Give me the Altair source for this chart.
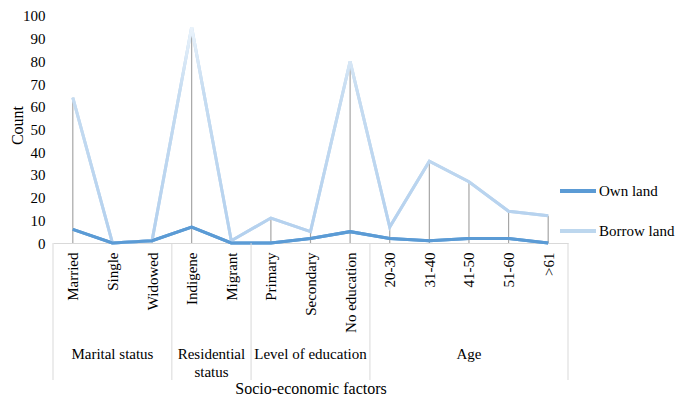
import altair as alt
import pandas as pd

categories = ["Married", "Single", "Widowed", "Indigene", "Migrant", "Primary",
              "Secondary", "No education", "20-30", "31-40", "41-50", "51-60", ">61"]
own_land = [6, 0, 1, 7, 0, 0, 2, 5, 2, 1, 2, 2, 0]
borrow_land = [64, 0, 1, 95, 1, 11, 5, 80, 7, 36, 27, 14, 12]
groups = ["Marital status", "Residential\nstatus", "Level of education", "Age"]
group_sizes = [3, 2, 3, 5]
series_names = ["Own land", "Borrow land"]
y_ticks = list(range(0, 101, 10))

FONT = "Liberation Serif"
W, H = 515, 235
n = len(categories)

pos = [i + 0.5 for i in range(n)]
long_df = pd.DataFrame({
    "pos": pos * 2,
    "value": own_land + borrow_land,
    "series": [series_names[0]] * n + [series_names[1]] * n,
})
own_df = long_df[long_df["series"] == series_names[0]]
borrow_df = long_df[long_df["series"] == series_names[1]]
drop_df = pd.DataFrame({"pos": pos, "value": [max(a, b) for a, b in zip(own_land, borrow_land)]})

bounds = [0]
for s in group_sizes:
    bounds.append(bounds[-1] + s)
sep_df = pd.DataFrame({"pos": bounds})
grp_df = pd.DataFrame({
    "pos": [(bounds[i] + bounds[i + 1]) / 2 for i in range(len(groups))],
    "label": groups,
})

x_scale = alt.Scale(domain=[0, n], nice=False, zero=False)
y_scale = alt.Scale(domain=[0, 103.5], nice=False)

label_expr = "[" + ",".join("'" + c + "'" for c in categories) + "][floor(datum.value)]"

x_axis = alt.Axis(values=pos, labelExpr=label_expr, labelAngle=270, ticks=False, grid=False,
                  domainColor="#d9d9d9", domainWidth=1, labelPadding=9, labelFont=FONT,
                  labelFontSize=15, labelColor="black", labelFlush=False, labelOverlap=False,
                  title="Socio-economic factors", titleFont=FONT, titleFontSize=16,
                  titleFontWeight="normal", titleColor="black", titleY=145,
                  titleBaseline="middle")
y_axis = alt.Axis(values=y_ticks, tickCount=11, ticks=False, domain=False, grid=False,
                  labelFont=FONT, labelFontSize=15, labelPadding=8, labelColor="black",
                  labelOverlap=False, title="Count",
                  titleFont=FONT, titleFontSize=16, titleFontWeight="normal", titleColor="black",
                  titleAngle=270, titleX=-36, titleY=117, titleAlign="center",
                  titleBaseline="middle")

X = alt.X("pos:Q", scale=x_scale, axis=x_axis)
Y = alt.Y("value:Q", scale=y_scale, axis=y_axis)

drop = alt.Chart(drop_df).mark_rule(color="#a6a6a6", strokeWidth=1.2).encode(
    x=X, y=Y, y2=alt.datum(0))

lines = alt.Chart(long_df).mark_line(strokeWidth=3).encode(
    x=X, y=Y,
    color=alt.Color("series:N",
                    scale=alt.Scale(domain=series_names, range=["#5b9bd5", "#bdd7ee"]),
                    legend=alt.Legend(orient="none", legendX=505, legendY=163, title=None,
                                      symbolType="stroke", symbolSize=1296,
                                      symbolStrokeWidth=4, labelFont=FONT, labelFontSize=15,
                                      labelColor="black", labelOffset=1, rowPadding=12,
                                      padding=0, labelLimit=200)),
)

grad = alt.Gradient(
    gradient="linear",
    stops=[alt.GradientStop(color="#eaf3fb", offset=0),
           alt.GradientStop(color="#c6dcf1", offset=0.3),
           alt.GradientStop(color="#b3d0ee", offset=1)],
    x1=0, x2=0, y1=0, y2=1,
)
borrow_line = alt.Chart(borrow_df).mark_line(strokeWidth=3, color=grad).encode(x=X, y=Y)
own_line = alt.Chart(own_df).mark_line(strokeWidth=3, color="#5b9bd5").encode(x=X, y=Y)

seps = alt.Chart(sep_df).mark_rule(color="#d9d9d9", strokeWidth=1).encode(
    x=X, y=alt.value(H), y2=alt.value(H + 137))

grp_text = alt.Chart(grp_df).mark_text(font=FONT, fontSize=15, baseline="top", align="center",
                                       lineBreak="\n", lineHeight=18, color="black").encode(
    x=X, y=alt.value(339), text="label:N")

chart = alt.layer(drop, lines, borrow_line, own_line, seps, grp_text).properties(
    width=W, height=H,
    padding={"left": 45, "top": 0, "right": 109, "bottom": 153},
    autosize=alt.AutoSizeParams(type="none"),
    background="white",
).configure_view(stroke=None).configure_axis(labelFont=FONT, titleFont=FONT)

chart.save("out.html", embed_options={"renderer": "svg", "actions": False})
